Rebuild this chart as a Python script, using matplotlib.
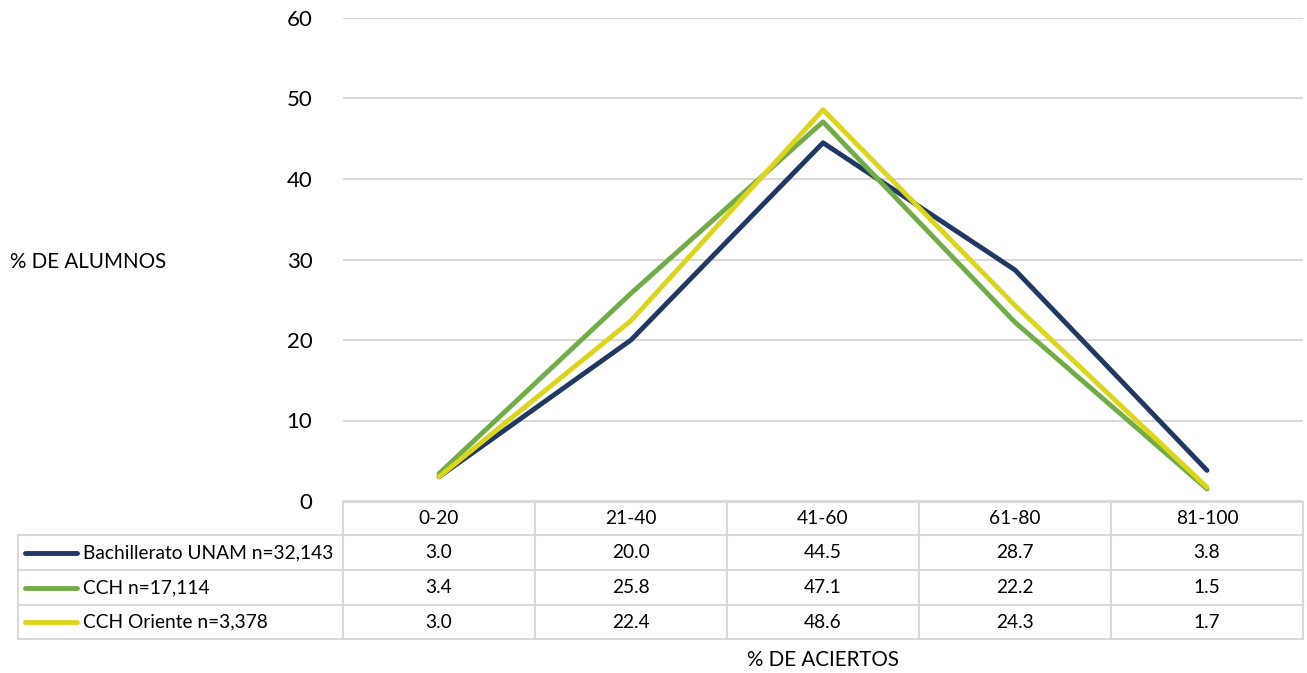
import matplotlib
matplotlib.use("Agg")
import matplotlib.pyplot as plt
import numpy as np

# Datos
categorias = ["0-20", "21-40", "41-60", "61-80", "81-100"]
series_nombres = ["Bachillerato UNAM n=32,143", "CCH n=17,114", "CCH Oriente n=3,378"]
bachillerato = [3.0, 20.0, 44.5, 28.7, 3.8]
cch = [3.4, 25.8, 47.1, 22.2, 1.5]
cch_oriente = [3.0, 22.4, 48.6, 24.3, 1.7]
y_ticks = [0, 10, 20, 30, 40, 50, 60]

colores = ["#203864", "#70AD47", "#DCD51C"]
valores = [bachillerato, cch, cch_oriente]

plt.rcParams["font.family"] = ["Lato", "DejaVu Sans"]
W, H = 1307, 673
fig = plt.figure(figsize=(W / 100, H / 100), dpi=100)

# area del grafico (en pixeles de la figura)
x0, x1 = 343, 1303
y_top, y_bot = 18, 501
ax = fig.add_axes([x0 / W, 1 - y_bot / H, (x1 - x0) / W, (y_bot - y_top) / H])
ax.set_xlim(-0.5, len(categorias) - 0.5)
ax.set_ylim(0, 60)
ax.set_yticks(y_ticks)
ax.set_xticks([])
for s in ax.spines.values():
    s.set_visible(False)
ax.tick_params(axis="y", length=0, pad=22, labelsize=16)
ax.grid(axis="y", color="#D9D9D9", linewidth=1.5)
ax.set_axisbelow(True)

xs = np.arange(len(categorias))
for vals, c in zip(valores, colores):
    ax.plot(xs, vals, color=c, linewidth=3.5, solid_capstyle="round")

fig.text(10 / W, 1 - 262 / H, "% DE ALUMNOS", fontsize=14.8, va="center", ha="left")

# tabla de datos debajo
tab = fig.add_axes([0, 0, 1, 1])
tab.set_xlim(0, W)
tab.set_ylim(H, 0)
tab.axis("off")
borde = "#D9D9D9"
filas_y = [502, 535, 570, 605, 639]
col_w = (x1 - x0) / len(categorias)
col_x = [x0 + i * col_w for i in range(len(categorias) + 1)]
left = 18

# lineas horizontales
tab.plot([x0, x1], [filas_y[0]] * 2, color=borde, lw=1.5)
for yy in filas_y[1:]:
    tab.plot([left, x1], [yy] * 2, color=borde, lw=1.5)
# lineas verticales
tab.plot([left, left], [filas_y[1], filas_y[-1]], color=borde, lw=1.5)
for xx in col_x:
    tab.plot([xx, xx], [filas_y[0], filas_y[-1]], color=borde, lw=1.5)

for i, cat in enumerate(categorias):
    tab.text((col_x[i] + col_x[i + 1]) / 2, (filas_y[0] + filas_y[1]) / 2, cat,
             ha="center", va="center", fontsize=13.8)
for r, (nombre, vals, c) in enumerate(zip(series_nombres, valores, colores)):
    yc = (filas_y[r + 1] + filas_y[r + 2]) / 2
    tab.plot([25, 77], [yc, yc], color=c, lw=3.5, solid_capstyle="round")
    tab.text(83, yc, nombre, ha="left", va="center", fontsize=13.8)
    for i, v in enumerate(vals):
        tab.text((col_x[i] + col_x[i + 1]) / 2, yc, f"{v:.1f}",
                 ha="center", va="center", fontsize=13.8)

fig.text(823 / W, 1 - 660 / H, "% DE ACIERTOS", fontsize=14.8, ha="center", va="center")

fig.savefig("out.png", dpi=100, facecolor="white")
